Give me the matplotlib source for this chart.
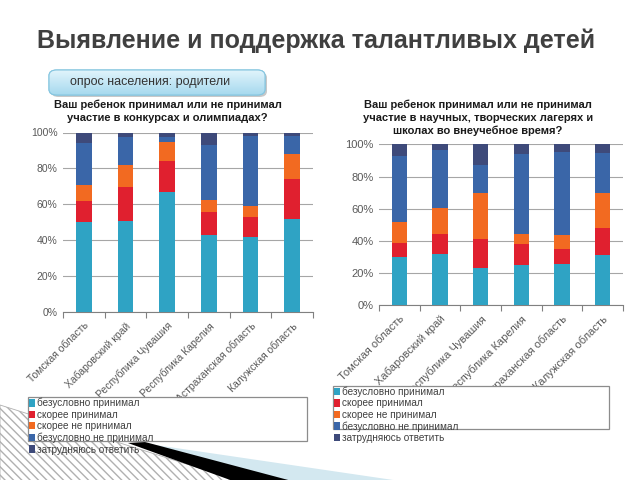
import numpy as np
import matplotlib
matplotlib.use('Agg')
import matplotlib.pyplot as plt
from matplotlib.patches import Rectangle, Polygon, FancyBboxPatch

plt.rcParams['font.family'] = ['Liberation Sans', 'DejaVu Sans']

# regions (x categories)
regions = ['Томская область', 'Хабаровский край', 'Республика Чувашия',
           'Республика Карелия', 'Астраханская область', 'Калужская область']
answers = ['безусловно принимал', 'скорее принимал', 'скорее не принимал',
           'безусловно не принимал', 'затрудняюсь ответить']
colors = ['#2FA3C4', '#E0202F', '#F26A21', '#3A66A8', '#3E4A7A']

# chart 1: contests and olympiads (%)
contests_yes = [50, 51, 67, 43, 42, 52]
contests_rather_yes = [12, 18.5, 17, 12.7, 11, 22]
contests_rather_no = [9, 12.5, 10.5, 6.6, 6, 14]
contests_no = [23, 15.5, 3, 31, 39, 10]
contests_unsure = [6, 2.5, 2.5, 6.7, 2, 2]

# chart 2: scientific / creative camps and schools (%)
camps_yes = [30, 32, 23, 25, 25.5, 31]
camps_rather_yes = [8.5, 12, 18, 13, 9.5, 17]
camps_rather_no = [13, 16.5, 28.5, 6, 8.5, 21.5]
camps_no = [41.5, 36, 17.5, 50, 51.5, 25]
camps_unsure = [7, 3.5, 13, 6, 5, 5.5]

title1 = 'Ваш ребенок принимал или не принимал\nучастие в конкурсах и олимпиадах?'
title2 = ('Ваш ребенок принимал или не принимал\nучастие в научных, творческих лагерях и\n'
          'школах во внеучебное время?')

fig = plt.figure(figsize=(6.4, 4.8), dpi=100)
W, H = 640.0, 480.0


def fx(x):
    return x / W


def fy(y):
    return 1 - y / H


# background decorations (bottom left)
hatch = Polygon([(fx(0), fy(405)), (fx(240), fy(481)), (fx(0), fy(481))],
                closed=True, transform=fig.transFigure, facecolor='white',
                edgecolor='#b0b0b0', hatch='\\\\\\\\', linewidth=0.6, zorder=0)
fig.patches.append(hatch)
light = Polygon([(fx(135), fy(442)), (fx(400), fy(481)), (fx(285), fy(481))],
                closed=True, transform=fig.transFigure, facecolor='#d3e8f0',
                edgecolor='none', zorder=0.5)
fig.patches.append(light)
black = Polygon([(fx(128), fy(443)), (fx(145), fy(442)), (fx(292), fy(481)), (fx(233), fy(481))],
                closed=True, transform=fig.transFigure, facecolor='black',
                edgecolor='none', zorder=0.6)
fig.patches.append(black)

# title
fig.text(fx(316), fy(41), 'Выявление и поддержка талантливых детей', ha='center', va='center',
         fontsize=18, fontweight='bold', color='#404040')

# button
shadow = FancyBboxPatch((fx(51), fy(97)), fx(216), 25 / H, boxstyle='round,pad=0,rounding_size=0.012',
                        transform=fig.transFigure, facecolor='#c8c8c8', edgecolor='none', zorder=1)
fig.patches.append(shadow)
btn = FancyBboxPatch((fx(49), fy(95)), fx(216), 25 / H, boxstyle='round,pad=0,rounding_size=0.012',
                     transform=fig.transFigure, facecolor='#bfe5f5', edgecolor='#86c6e0',
                     linewidth=0.8, zorder=2)
fig.patches.append(btn)
gax = fig.add_axes([fx(49), fy(95), fx(216), 25 / H], zorder=3)
grad = np.linspace(0, 1, 50).reshape(-1, 1)
gax.imshow(grad, aspect='auto', cmap=matplotlib.colors.LinearSegmentedColormap.from_list(
    'b', ['#e3f5fc', '#a6d9ee']), extent=[0, 1, 1, 0])
gax.set_axis_off()
clip = FancyBboxPatch((fx(49), fy(95)), fx(216), 25 / H, boxstyle='round,pad=0,rounding_size=0.012',
                      transform=fig.transFigure, facecolor='none', edgecolor='none')
gax.images[0].set_clip_path(clip)
border = FancyBboxPatch((fx(49), fy(95)), fx(216), 25 / H, boxstyle='round,pad=0,rounding_size=0.012',
                        transform=fig.transFigure, facecolor='none', edgecolor='#86c6e0',
                        linewidth=0.8, zorder=4)
fig.patches.append(border)
fig.text(fx(70), fy(82.5), 'опрос населения: родители', ha='left', va='center',
         fontsize=9, color='#333333', zorder=5)


def draw_chart(rect, series, title, title_xy, fs, leg_box, leg_top):
    ax = fig.add_axes(rect)
    x = np.arange(len(regions))
    bottom = np.zeros(len(regions))
    handles = []
    for vals, col, lab in zip(series, colors, answers):
        b = ax.bar(x, vals, 0.38, bottom=bottom, color=col, label=lab, zorder=3)
        handles.append(b)
        bottom += np.array(vals)
    ax.set_xlim(-0.5, len(regions) - 0.5)
    ax.set_ylim(0, 100)
    ax.set_yticks(range(0, 101, 20))
    ax.set_yticklabels([f'{v}%' for v in range(0, 101, 20)], fontsize=fs, color='#595959')
    ax.yaxis.grid(True, color='#a6a6a6', linewidth=0.8, zorder=0)
    ax.tick_params(axis='y', length=0, pad=4)
    ax.set_xticks(np.arange(-0.5, len(regions), 1.0))
    ax.set_xticklabels([])
    ax.set_xticks(x, minor=True)
    ax.set_xticklabels(regions, minor=True, rotation=45, ha='right', rotation_mode='anchor',
                       fontsize=fs, color='#595959')
    ax.tick_params(axis='x', which='major', length=4, color='#808080')
    ax.tick_params(axis='x', which='minor', length=0, pad=6)
    for s in ['top', 'right', 'left']:
        ax.spines[s].set_visible(False)
    ax.spines['bottom'].set_color('#808080')
    ax.set_facecolor('none')
    fig.text(fx(title_xy[0]), fy(title_xy[1]), title, ha='center', va='top', fontsize=8,
             fontweight='bold', color='#1a1a1a', linespacing=1.35)
    # legend box (last entry falls outside it, as in the original)
    x0, y0, x1, y1 = leg_box
    fig.patches.append(Rectangle((fx(x0), fy(y1)), fx(x1 - x0), (y1 - y0) / H,
                                 transform=fig.transFigure, facecolor='white',
                                 edgecolor='#8c8c8c', linewidth=0.9, zorder=1))
    leg = fig.legend(handles=handles, labels=answers, loc='upper left',
                     bbox_to_anchor=(fx(x0 + 1), fy(leg_top)), frameon=False, fontsize=7.2,
                     handlelength=0.55, handleheight=0.75, handletextpad=0.25,
                     labelspacing=0.14, borderpad=0, borderaxespad=0)
    for t in leg.get_texts():
        t.set_color('#404040')
    return ax


draw_chart([fx(63), fy(312.3), fx(250), 179.8 / H],
           [contests_yes, contests_rather_yes, contests_rather_no, contests_no, contests_unsure],
           title1, (167.5, 99.5), 7.5, (28, 397, 307, 441), 398)
draw_chart([fx(379), fy(305.3), fx(244), 161 / H],
           [camps_yes, camps_rather_yes, camps_rather_no, camps_no, camps_unsure],
           title2, (478, 99.5), 8, (333, 386, 609, 429), 386.5)

fig.savefig('out.png', dpi=100)
